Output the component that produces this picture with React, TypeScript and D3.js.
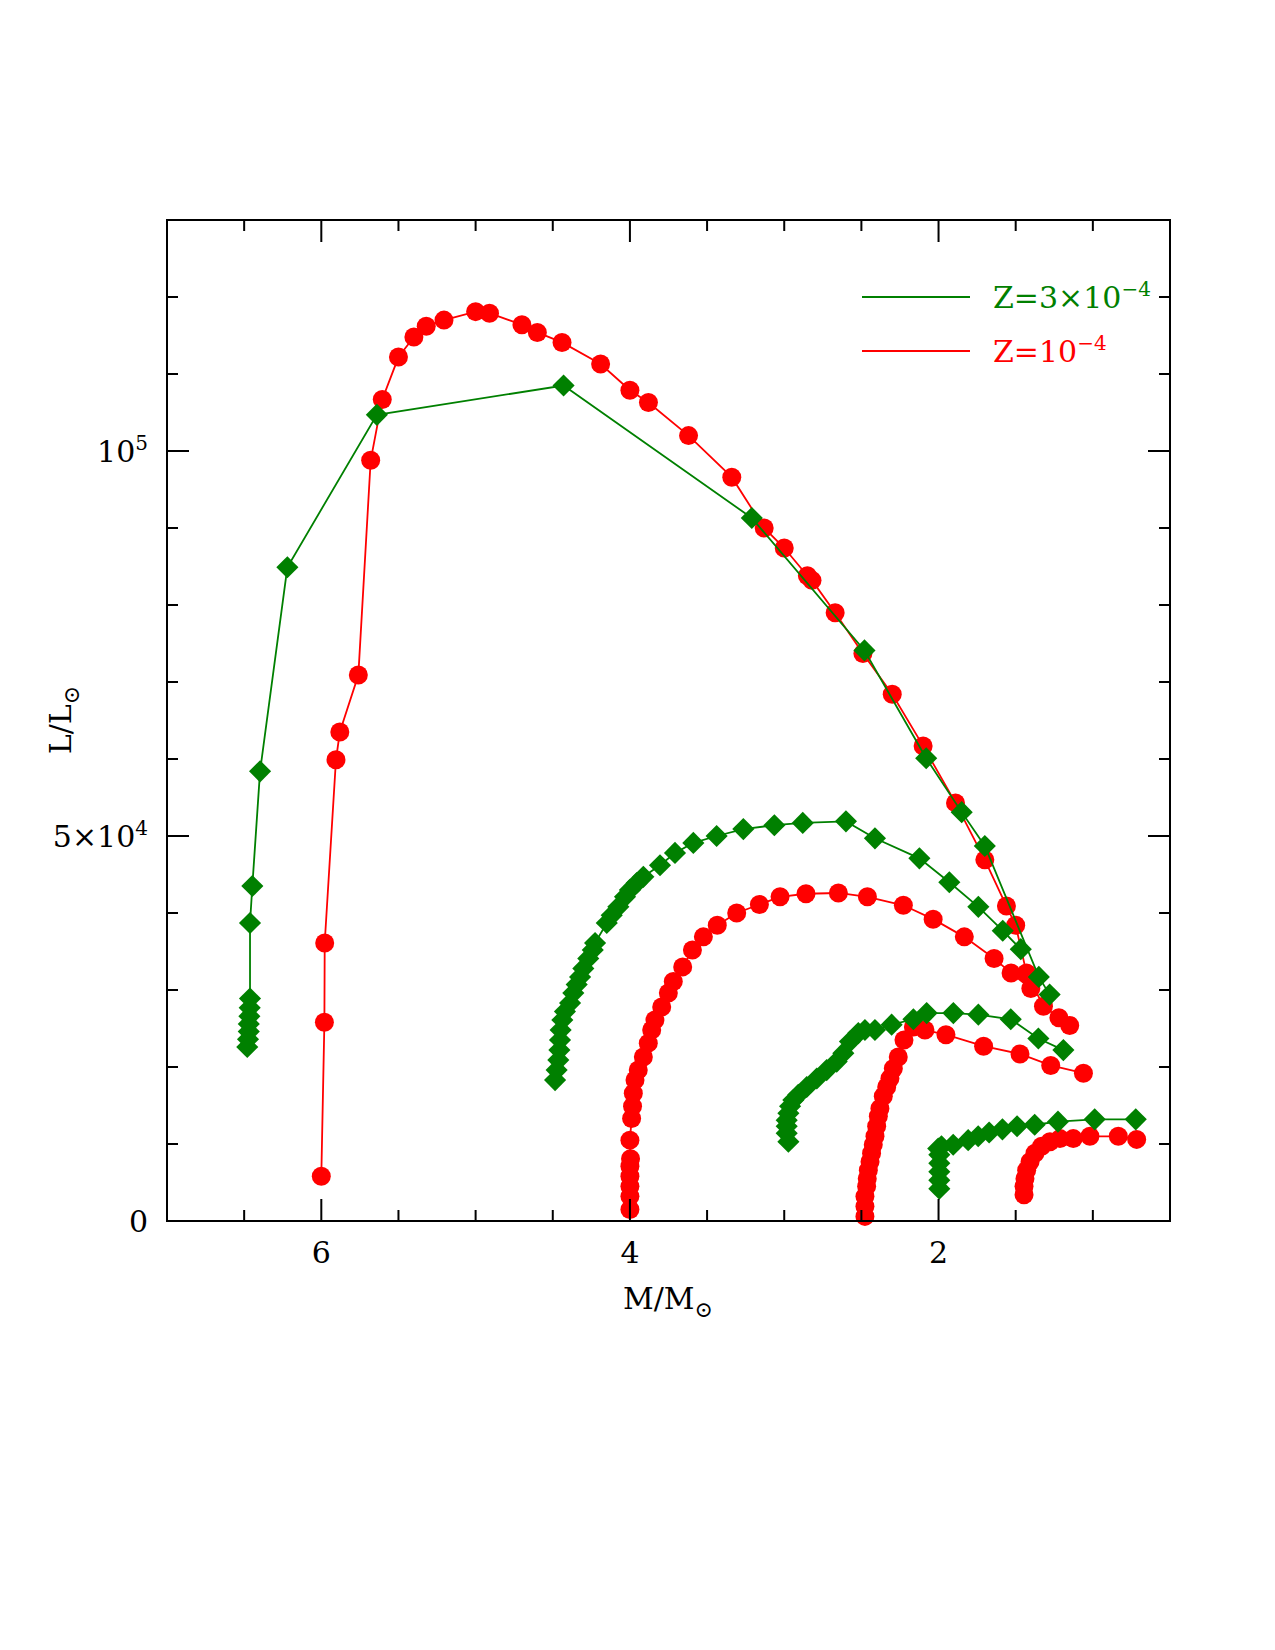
import React, { useEffect, useRef } from 'react';
import * as d3 from 'd3';

// Luminosity (L/Lsun) vs. mass (M/Msun) along the tracks.
// Each pair is [mass, luminosity].
const greenTrackA: [number, number][] = [
  [6.48, 22600], [6.475, 23600], [6.47, 24600], [6.47, 25600], [6.466, 26600],
  [6.464, 27700], [6.462, 28900], [6.462, 38700], [6.447, 43500], [6.397, 58400],
  [6.22, 84900], [5.64, 104700], [4.43, 108500], [3.21, 91300], [2.48, 74100],
  [2.08, 60100], [1.85, 53100], [1.70, 48700], [1.35, 31700], [1.28, 29400],
];

const greenTrackB: [number, number][] = [
  [4.485, 18300], [4.475, 19600], [4.464, 20900], [4.457, 22200], [4.453, 23500],
  [4.449, 24800], [4.438, 26100], [4.421, 27200], [4.388, 28300], [4.367, 29600],
  [4.345, 30700], [4.323, 31700], [4.302, 32800], [4.27, 34100], [4.241, 35200],
  [4.226, 36100], [4.15, 38700], [4.118, 39700], [4.075, 40800], [4.032, 42100],
  [4.0, 43000], [3.956, 43900], [3.913, 44700], [3.805, 46200], [3.708, 47800],
  [3.589, 49100], [3.438, 50000], [3.265, 50900], [3.064, 51400], [2.88, 51700],
  [2.60, 51900], [2.412, 49700], [2.124, 47100], [1.93, 44000], [1.742, 40800],
  [1.584, 37700], [1.467, 35300],
];

const greenTrackC: [number, number][] = [
  [2.973, 10300], [2.984, 11400], [2.984, 12300], [2.984, 13100], [2.973, 14000],
  [2.962, 14900], [2.941, 15700], [2.909, 16400], [2.854, 17400], [2.789, 18500],
  [2.725, 19600], [2.66, 20700], [2.617, 21800], [2.574, 23300], [2.52, 24400],
  [2.477, 24800], [2.412, 24800], [2.304, 25500], [2.163, 26200], [2.077, 27000],
  [1.904, 27000], [1.742, 26800], [1.532, 26200], [1.353, 23700], [1.191, 22200],
];

const greenTrackD: [number, number][] = [
  [1.995, 4200], [1.995, 5300], [1.995, 6400], [1.995, 7500], [1.995, 8600],
  [2.002, 9400], [1.981, 9700], [1.905, 9900], [1.808, 10500], [1.743, 11000],
  [1.672, 11500], [1.586, 11900], [1.491, 12300], [1.377, 12500], [1.226, 12900],
  [0.988, 13200], [0.722, 13200],
];

const redTrackA: [number, number][] = [
  [6.0, 5800], [5.98, 25800], [5.978, 36100], [5.905, 59900], [5.88, 63500],
  [5.76, 70900], [5.68, 98800], [5.605, 106700], [5.50, 112200], [5.40, 114800],
  [5.32, 116200], [5.205, 117000], [5.0, 118100], [4.91, 117900], [4.70, 116400],
  [4.60, 115400], [4.44, 114100], [4.19, 111300], [4.0, 107900], [3.88, 106300],
  [3.62, 102000], [3.34, 96600], [3.13, 90000], [3.0, 87400], [2.85, 83800],
  [2.82, 83200], [2.67, 79000], [2.49, 73700], [2.30, 68400], [2.10, 61700],
  [1.89, 54300], [1.70, 46900], [1.56, 40900], [1.50, 38400], [1.43, 32200],
  [1.32, 27900], [1.22, 26400], [1.15, 25400],
];

const redTrackB: [number, number][] = [
  [4.0, 1500], [4.0, 3200], [4.0, 4500], [4.0, 5800], [4.0, 7100],
  [3.996, 8100], [4.0, 10500], [3.989, 13300], [3.983, 14900], [3.978, 16600],
  [3.967, 18300], [3.946, 19600], [3.913, 21300], [3.881, 23100], [3.859, 24800],
  [3.838, 26100], [3.794, 27800], [3.751, 29600], [3.719, 31100], [3.658, 33000],
  [3.595, 35200], [3.524, 36900], [3.434, 38400], [3.308, 40000], [3.161, 41100],
  [3.027, 42100], [2.859, 42500], [2.649, 42600], [2.461, 42100], [2.228, 41000],
  [2.035, 39200], [1.833, 36900], [1.64, 34100], [1.53, 32200], [1.402, 30200],
];

const redTrackC: [number, number][] = [
  [2.477, 600], [2.477, 1900], [2.477, 3200], [2.466, 4500], [2.462, 5500],
  [2.455, 6600], [2.444, 7700], [2.434, 8800], [2.423, 9900], [2.412, 11000],
  [2.401, 12300], [2.39, 13600], [2.38, 14600], [2.358, 16200], [2.336, 17400],
  [2.315, 18500], [2.293, 19800], [2.261, 21300], [2.224, 23500], [2.163, 25200],
  [2.088, 24800], [1.952, 24200], [1.708, 22700], [1.472, 21700], [1.273, 20200],
  [1.061, 19200],
];

const redTrackD: [number, number][] = [
  [1.446, 3400], [1.446, 4500], [1.44, 5500], [1.429, 6600], [1.407, 7700],
  [1.375, 8800], [1.332, 9700], [1.278, 10300], [1.213, 10700], [1.127, 10700],
  [1.019, 11000], [0.835, 11000], [0.716, 10600],
];

const greenTracks = [greenTrackA, greenTrackB, greenTrackC, greenTrackD];
const redTracks = [redTrackA, redTrackB, redTrackC, redTrackD];

const massMajor = [6, 4, 2];
const massMinor = [6.5, 5.5, 5, 4.5, 3.5, 3, 2.5, 1.5, 1];
const lumMajor = [0, 50000, 100000];
const lumMinor = [10000, 20000, 30000, 40000, 60000, 70000, 80000, 90000, 110000, 120000];
const lumLabels = [
  { v: 0, base: '0', sup: '' },
  { v: 50000, base: '5×10', sup: '4' },
  { v: 100000, base: '10', sup: '5' },
];
const legendItems = [
  { color: '#008000', base: 'Z=3×10', sup: '−4' },
  { color: '#ff0000', base: 'Z=10', sup: '−4' },
];

const W = 1275;
const H = 1650;
const left = 167, right = 1170, top = 220, bottom = 1221;
const FONT = '"DejaVu Serif", serif';

export default function App() {
  const ref = useRef<SVGSVGElement>(null);

  useEffect(() => {
    const svg = d3.select(ref.current);
    svg.selectAll('*').remove();

    const x = d3.scaleLinear().domain([7, 0.5]).range([left, right]);
    const y = d3.scaleLinear().domain([0, 130000]).range([bottom, top]);

    const line = d3.line<[number, number]>()
      .x(d => x(d[0]))
      .y(d => y(d[1]));

    // red tracks first, green on top
    redTracks.forEach(tr => {
      svg.append('path')
        .attr('d', line(tr))
        .attr('fill', 'none')
        .attr('stroke', '#ff0000')
        .attr('stroke-width', 1.8);
      svg.append('g').selectAll('circle')
        .data(tr)
        .enter()
        .append('circle')
        .attr('cx', d => x(d[0]))
        .attr('cy', d => y(d[1]))
        .attr('r', 9.5)
        .attr('fill', '#ff0000');
    });

    const diamond = d3.symbol().type(d3.symbolSquare).size(245)();
    greenTracks.forEach(tr => {
      svg.append('path')
        .attr('d', line(tr))
        .attr('fill', 'none')
        .attr('stroke', '#008000')
        .attr('stroke-width', 1.8);
      svg.append('g').selectAll('path')
        .data(tr)
        .enter()
        .append('path')
        .attr('d', diamond)
        .attr('transform', d => `translate(${x(d[0])},${y(d[1])}) rotate(45)`)
        .attr('fill', '#008000');
    });

    // frame
    svg.append('rect')
      .attr('x', left).attr('y', top)
      .attr('width', right - left).attr('height', bottom - top)
      .attr('fill', 'none').attr('stroke', '#000').attr('stroke-width', 2);

    const ticks = svg.append('g').attr('stroke', '#000').attr('stroke-width', 2);
    const tickX = (vals: number[], len: number) => {
      vals.forEach(v => {
        ticks.append('line').attr('x1', x(v)).attr('x2', x(v)).attr('y1', bottom).attr('y2', bottom - len);
        ticks.append('line').attr('x1', x(v)).attr('x2', x(v)).attr('y1', top).attr('y2', top + len);
      });
    };
    const tickY = (vals: number[], len: number) => {
      vals.forEach(v => {
        ticks.append('line').attr('y1', y(v)).attr('y2', y(v)).attr('x1', left).attr('x2', left + len);
        ticks.append('line').attr('y1', y(v)).attr('y2', y(v)).attr('x1', right).attr('x2', right - len);
      });
    };
    tickX(massMinor, 11);
    tickX(massMajor, 22);
    tickY(lumMinor, 11);
    tickY(lumMajor, 22);

    // tick labels
    svg.append('g').selectAll('text')
      .data(massMajor)
      .enter()
      .append('text')
      .attr('x', d => x(d))
      .attr('y', bottom + 42)
      .attr('text-anchor', 'middle')
      .attr('font-family', FONT)
      .attr('font-size', 30)
      .text(d => String(d));

    lumLabels.forEach(l => {
      const t = svg.append('text')
        .attr('x', 148)
        .attr('y', y(l.v) + 11)
        .attr('text-anchor', 'end')
        .attr('font-family', FONT)
        .attr('font-size', 30);
      t.append('tspan').text(l.base);
      if (l.sup) {
        t.append('tspan').attr('dy', -12).attr('font-size', 20).text(l.sup);
      }
    });

    // axis titles
    const xt = svg.append('text')
      .attr('x', 668).attr('y', 1309)
      .attr('text-anchor', 'middle')
      .attr('font-family', FONT).attr('font-size', 30);
    xt.append('tspan').text('M/M');
    xt.append('tspan').attr('dy', 8).attr('font-size', 22).text('⊙');

    const yt = svg.append('text')
      .attr('transform', 'translate(71,720) rotate(-90)')
      .attr('text-anchor', 'middle')
      .attr('font-family', FONT).attr('font-size', 30);
    yt.append('tspan').text('L/L');
    yt.append('tspan').attr('dy', 8).attr('font-size', 22).text('⊙');

    // legend
    legendItems.forEach((item, i) => {
      const ly = 297 + i * 54;
      svg.append('line')
        .attr('x1', 862).attr('x2', 970)
        .attr('y1', ly).attr('y2', ly)
        .attr('stroke', item.color).attr('stroke-width', 1.8);
      const t = svg.append('text')
        .attr('x', 993).attr('y', ly + 11)
        .attr('fill', item.color)
        .attr('font-family', FONT).attr('font-size', 30);
      t.append('tspan').text(item.base);
      t.append('tspan').attr('dy', -12).attr('font-size', 20).text(item.sup);
    });
  }, []);

  return (
    <svg ref={ref} width={W} height={H}
      style={{ position: 'absolute', left: 0, top: 0, background: '#fff' }} />
  );
}
